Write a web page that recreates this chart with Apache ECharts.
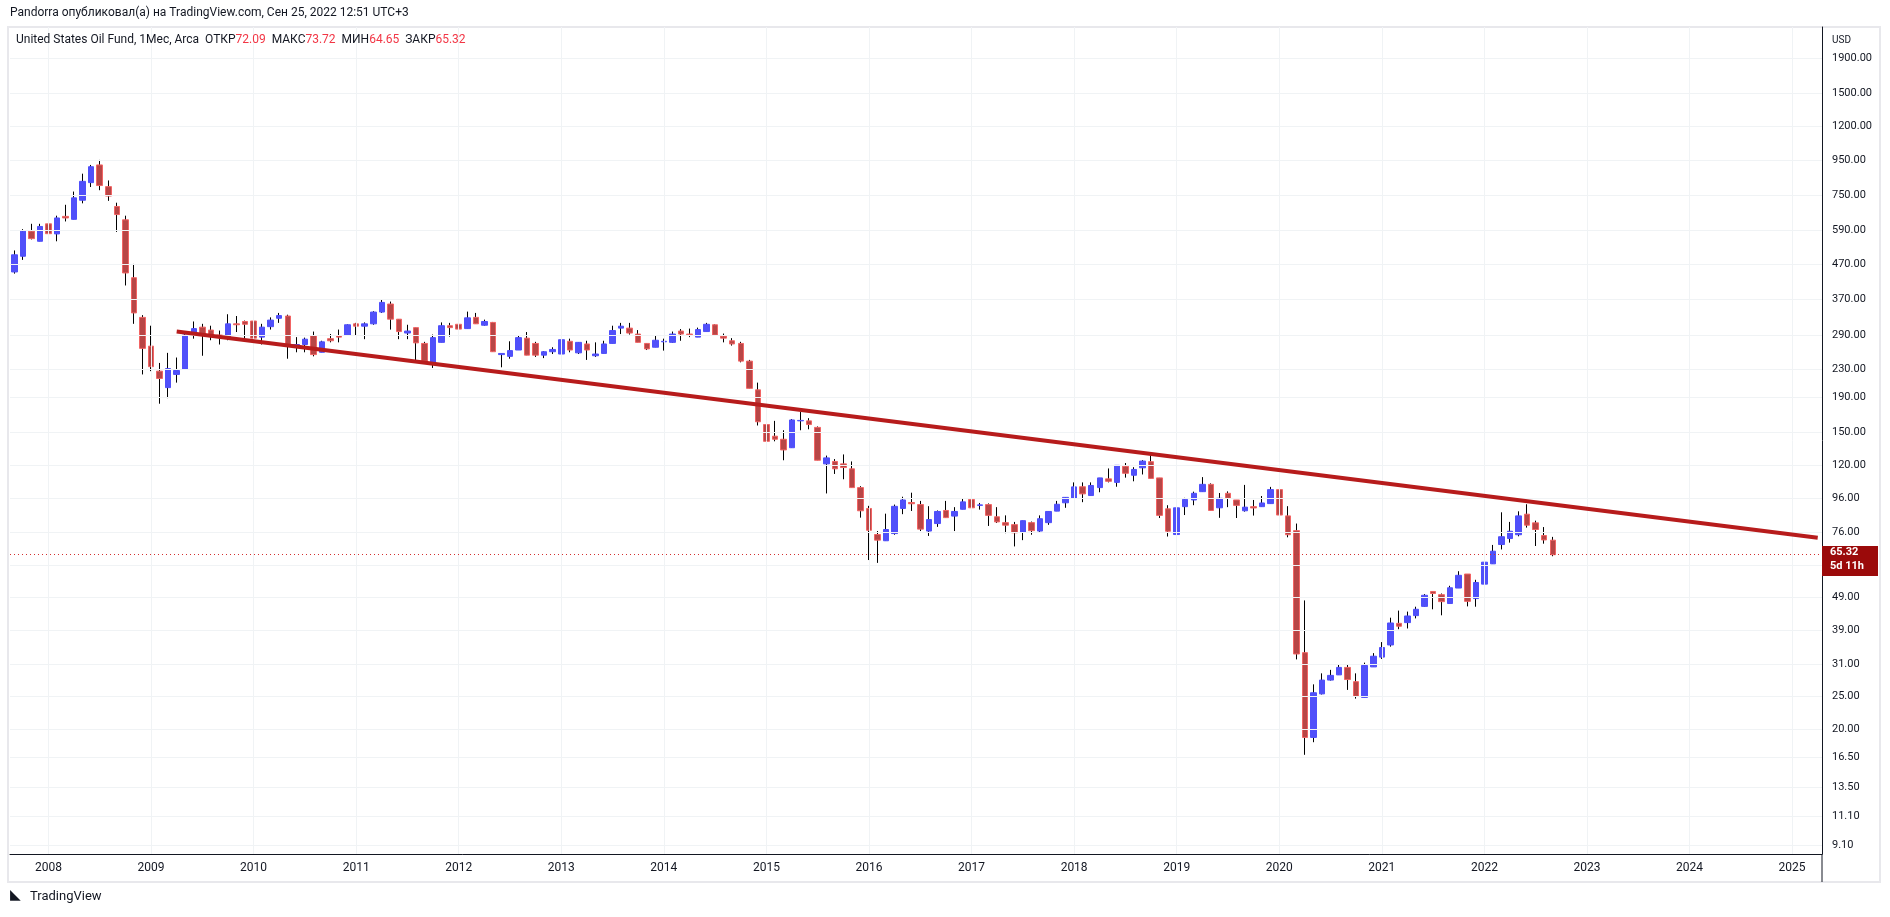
<!DOCTYPE html>
<html><head><meta charset="utf-8">
<script src="https://cdn.jsdelivr.net/npm/echarts@6/dist/echarts.min.js"></script>
<style>html,body{margin:0;padding:0;background:#fff}#c{width:1890px;height:917px}</style>
</head><body><div id="c"></div>
<script>
const opens=[445,495,587,548,617,576,649,636,724,816,920,794,694,634,428,327,269,227,203,222,230,291,306,300,290,286,313,318,319,286,307,325,330,267,272,289,258,283,289,290,313,308,313,339,358,323,294,305,274,238,276,309,312,303,327,310,316,254,251,262,284,274,253,259,255,278,257,273,252,256,274,304,304,292,274,267,277,276,298,292,286,297,311,288,279,274,243,200,158,146,143,135,162,162,155,121,123,121,117,103,89.4,74.9,71.8,75.4,89.4,93.1,91.8,76.7,80.7,88.2,84.9,88.9,95,91.3,91.8,84.5,81.2,80.1,76.1,81.2,76.7,81.2,87.8,92.9,95.9,103.6,97.6,103,109.3,106.7,119,112,117.8,122.8,110,89.2,74.9,90.5,94.7,100.2,105.3,89.8,99.1,94.7,88,90.5,90.5,92.4,101.6,85,76.9,33.6,18.9,25.4,27.9,28.9,30.4,27.6,24.8,30.5,32.6,35.4,41,41.2,43.2,46.0,50.9,49.8,46.9,52.1,57.3,48.5,53.5,61.4,70.0,72.9,74.8,86.0,81.1,74.4,72.09];
const closes=[500,587,558,606,577,642,642,736,823,909,800,745,657,442,337,265,234,216,231,228,290,303,293,287,288,313,311,312,284,306,321,331,271,272,282,254,277,279,286,311,308,313,339,362,323,297,298,275,243,285,309,305,302,326,313,318,259,256,261,285,253,253,259,263,281,262,276,262,255,273,299,308,294,276,264,280,278,292,292,291,301,312,290,284,273,243,202,161,141,143,133,163,162.5,158,124,126,117,118,103,88,77.1,72.1,77.5,90.7,94.7,92.3,77.7,82.9,87.6,84,87.6,93.5,89.8,91.6,85.3,81.6,79.8,75.8,82.3,76.9,83.4,87.6,92,96.4,103.5,98.7,104.5,110,107.5,119.8,113.5,116.5,123.3,109.6,85.3,76.6,89.8,95.1,99.1,105.3,88.2,95.8,95.8,91.3,90.2,89.7,92.8,101.6,85.5,74.8,33.3,18.9,25.6,27.9,28.8,30.4,28.0,25.0,30.8,32.8,34.8,41.1,40.2,43.1,45.1,49.6,50.2,47.5,52.2,56.8,47.6,54.1,62.1,66.9,73.8,76.6,85.0,79.8,77.5,72.2,65.32];
const lows=[440,483,555,548,548,548,627,636,709,792,775,721,584,406,313,222,227,182,189,210,230,283,252,280,272,280,296,281,284,272,301,315,247,258,258,251,258,276,276,289,289,282,311,337,301,282,282,243,243,232,276,287,300,303,313,309,259,233,247,262,253,250,248,255,255,258,255,245,250,256,274,292,291,276,262,267,261,275,279,286,286,297,290,276,270,241,202,157,131,141,124,135,152,153,124,99,113,109,103,84,63,61.8,71.8,74.8,86,87.9,76.7,74.2,78.9,84,76.7,88.9,88.2,88.7,79.4,81,75.6,69.1,72.1,74.8,76.1,80,87.8,89.8,95.9,93.3,97.6,99.8,106.7,103.6,110.2,107.5,112.6,109.6,83.8,73.9,74.9,85.5,91.4,100.2,88.2,83.9,90.2,83.8,87.5,85.2,90.5,92.4,85,73.5,32.1,16.8,18.3,25.3,27.8,28.9,26.1,24.6,24.8,30.5,32.2,35.0,39.4,39.6,42.4,45.9,45.1,43.3,46.9,52.1,46.0,45.9,53.5,61.4,67.7,70.9,74.0,78.5,69.3,70.4,64.65];
const highs=[515,595,617,617,631,652,702,768,867,920,952,828,712,652,470,332,309,240,257,249,292,318,313,309,299,334,330,320,327,313,327,337,333,286,285,297,279,292,301,312,315,316,341,368,364,323,311,305,277,291,316,315,319,340,337,322,317,256,278,290,296,277,260,267,283,283,276,279,276,279,309,315,315,300,274,289,283,297,302,303,305,315,312,293,284,277,245,210,161,162,152,164,172,165,156,128,125,129,123,104,91,76.7,86.3,91.8,96.8,99.5,94.1,90.8,88.2,94.1,90.2,95.9,96.6,92.8,92.5,90.2,85.3,81.6,82.3,81.8,85.3,87.6,94.1,96.4,106.7,106.7,106.7,110,117.3,119.8,121.7,118.3,124.1,129.4,110,91.4,92.5,96.1,100.2,110.6,106,99.3,100.4,94.7,104.9,94.7,97.3,103.5,106.3,90.8,80.7,47.9,27.1,29.2,29.9,31.0,30.9,29.2,31.4,33.5,36.1,42.6,44.7,44.4,45.9,50,51,50.2,52.9,58.4,57.3,55.1,62.5,69.8,87.1,81.6,87.7,92,82.3,78.8,73.72];
const yTicks=[1900,1500,1200,950,750,590,470,370,290,230,190,150,120,96,76,61,49,39,31,25,20,16.5,13.5,11.1,9.1];
const yLabels=[1900,1500,1200,950,750,590,470,370,290,230,190,150,120,96,76,49,39,31,25,20,16.5,13.5,11.1,9.1];
const trend=[{m:'2009-04',v:297.0},{m:'2025-04',v:73.3}];
const lastPrice=65.32;

const months=[];
for(let y=2007,mo=9;months.length<212;){months.push(y+'-'+String(mo).padStart(2,'0'));mo++;if(mo>12){mo=1;y++;}}
const yearCats=months.filter(m=>m.endsWith('-01'));
const wick=opens.map((o,i)=>[o,closes[i],lows[i],highs[i]]);
const body=opens.map((o,i)=>[o,closes[i],Math.min(o,closes[i]),Math.max(o,closes[i])]);
const F='Roboto, "DejaVu Sans", sans-serif';
const chart=echarts.init(document.getElementById('c'));
chart.setOption({
 animation:false,
 grid:{left:10,right:68,top:27,bottom:63},
 xAxis:{type:'category',data:months,boundaryGap:true,
   axisLine:{lineStyle:{color:'#131722',width:1}},axisTick:{show:false},
   axisLabel:{interval:(i,v)=>v.endsWith('-01'),formatter:v=>v.slice(0,4),color:'#131722',fontSize:12,fontFamily:F,margin:8},
   splitLine:{show:false}},
 yAxis:{type:'log',position:'right',min:8.57,max:2346,logBase:10,
   axisLine:{show:true,lineStyle:{color:'#131722'}},axisTick:{show:false},splitLine:{show:false},
   axisLabel:{customValues:yLabels,formatter:v=>Number(v).toFixed(2),color:'#131722',fontSize:11,fontFamily:F,margin:10}},
 series:[
  {type:'candlestick',data:wick,barWidth:1,silent:true,
   itemStyle:{color:'#000',color0:'#000',borderColor:'#000',borderColor0:'#000',borderWidth:1},
   markLine:{silent:true,symbol:'none',label:{show:false},animation:false,
     lineStyle:{color:'#f0f3f5',width:1,type:'solid'},
     data:yTicks.map(v=>({yAxis:v})).concat(yearCats.map(c=>({xAxis:c})))}},
  {type:'candlestick',data:body,barWidth:6,
   itemStyle:{color:'#5050fa',color0:'#b84646',borderColor:'#5050fa',borderColor0:'#f26464',borderWidth:1},
   markLine:{silent:true,symbol:'none',label:{show:false},animation:false,
     data:[
      [{coord:[trend[0].m,trend[0].v],lineStyle:{color:'#b71c1c',width:4,type:'solid'}},{coord:[trend[1].m,trend[1].v]}],
      {yAxis:lastPrice,lineStyle:{color:'#d32f2f',width:1,type:[1,3]}}
     ]}}
 ],
 graphic:[
  {type:'text',left:10,top:7,style:{text:'Pandorra опубликовал(а) на TradingView.com, Сен 25, 2022 12:51 UTC+3',font:'12px '+F,fill:'#131722'}},
  {type:'rect',shape:{x:8,y:27,width:1872,height:855},style:{fill:'none',stroke:'#e8e8ec',lineWidth:2},z:-1},
  {type:'text',left:16,top:34,z:10,style:{text:'{a|United States Oil Fund, 1Мес, Arca  ОТКР}{b|72.09}{a|  МАКС}{b|73.72}{a|  МИН}{b|64.65}{a|  ЗАКР}{b|65.32}',
    rich:{a:{font:'12px '+F,fill:'#131722'},b:{font:'12px '+F,fill:'#f23645'}}}},
  {type:'text',left:1832,top:35,style:{text:'USD',font:'10px '+F,fill:'#131722'}},
  {type:'line',shape:{x1:1822,y1:854,x2:1822,y2:882},style:{stroke:'#131722',lineWidth:1}},
  {type:'rect',shape:{x:1822,y:546,width:56,height:30},style:{fill:'#9b0a0a'},z:20},
  {type:'text',left:1830,top:547,z:21,style:{text:'65.32',font:'bold 11px '+F,fill:'#fff'}},
  {type:'text',left:1830,top:561,z:21,style:{text:'5d 11h',font:'bold 11px '+F,fill:'#fff'}},
  {type:'text',left:30,top:890,style:{text:'TradingView',font:'13px '+F,fill:'#131722'}},
  {type:'text',left:10,top:888,style:{text:'◣',font:'bold 14px '+F,fill:'#131722'}}
 ]
});
</script></body></html>
